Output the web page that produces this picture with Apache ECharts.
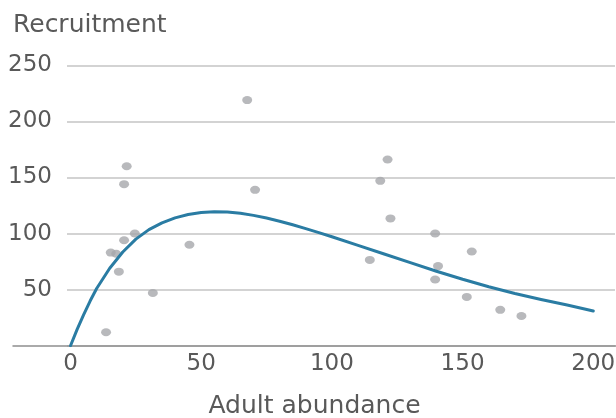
<!DOCTYPE html>
<html>
<head>
<meta charset="utf-8">
<script src="https://cdn.jsdelivr.net/npm/echarts@6/dist/echarts.min.js"></script>
<style>
html,body{margin:0;padding:0;background:#fff;}
#chart{width:616px;height:418px;}
</style>
</head>
<body>
<div id="chart"></div>
<script>
// Observed data points: adult abundance (x) and recruitment (y)
var adultAbundance = [13.6, 15.4, 17.5, 18.5, 20.5, 20.5, 21.5, 24.6, 31.5, 45.5, 67.6, 70.6, 114.5, 118.5, 121.3, 122.4, 139.5, 140.6, 139.5, 151.6, 153.5, 164.4, 172.5];
var recruitment    = [12, 83, 82, 66, 94, 144, 160, 100, 47, 90, 219, 139, 76.5, 147, 166, 113.5, 100, 71, 59, 43.5, 84, 32, 26.5];

// Fitted curve
var curveX = [0, 2.5, 5, 7.5, 10, 15, 20, 25, 30, 35, 40, 45, 50, 55, 60, 65, 70, 75, 80, 85, 90, 95, 100, 110, 120, 130, 140, 150, 160, 170, 180, 190, 200];
var curveY = [0, 14.3, 27.5, 39.8, 51, 69, 83.5, 95, 103.5, 109.5, 114, 117, 118.8, 119.5, 119.2, 118, 116.2, 113.8, 111, 107.8, 104.4, 100.8, 97.1, 89.5, 81.8, 74, 66.4, 59.2, 52.6, 46.6, 41.2, 36.3, 31];

var xTicks = [0, 50, 100, 150, 200];
var yTicks = [0, 50, 100, 150, 200, 250];

var FONT = 'DejaVu Sans';
var TXT = '#595959';

var chart = echarts.init(document.getElementById('chart'), null, {renderer: 'canvas'});

var points = adultAbundance.map(function (x, i) { return [x, recruitment[i]]; });
var curve = curveX.map(function (x, i) { return [x, curveY[i]]; });
function fmt(v) { return String(Math.round(v)); }

chart.setOption({
  animation: false,
  backgroundColor: '#fff',
  title: {
    text: 'Recruitment',
    left: 8, top: 8,
    textStyle: {fontFamily: FONT, fontSize: 25, fontWeight: 'normal', color: TXT}
  },
  grid: [
    {left: 67, right: 1, top: 65.3, bottom: 72.3, outerBoundsMode: 'none'},
    {left: 13, right: 0, top: 65.3, bottom: 72.3, outerBoundsMode: 'none'}
  ],
  xAxis: [
    {
      gridIndex: 0, type: 'value', min: -1.34, max: 208.3,
      axisLine: {show: false}, axisTick: {show: false}, splitLine: {show: false},
      axisLabel: {show: false}
    },
    {
      gridIndex: 1, type: 'value', min: -22, max: 208.7,
      axisLine: {show: true, lineStyle: {color: '#8f8f8f', width: 1.5}},
      axisTick: {show: false}, splitLine: {show: false},
      axisLabel: {customValues: xTicks, formatter: fmt, fontFamily: FONT, fontSize: 23, color: TXT, margin: 7},
      name: 'Adult abundance', nameLocation: 'middle', nameGap: 48,
      nameTextStyle: {fontFamily: FONT, fontSize: 25, color: TXT}
    }
  ],
  yAxis: [
    {
      gridIndex: 0, type: 'value', min: 0, max: 250, interval: 50,
      axisLine: {show: false}, axisTick: {show: false},
      splitLine: {lineStyle: {color: '#c4c4c4', width: 1.5}},
      axisLabel: {
        customValues: yTicks.slice(1), formatter: fmt, fontFamily: FONT, fontSize: 23, color: TXT, margin: 15
      }
    },
    {gridIndex: 1, type: 'value', min: 0, max: 1, show: false}
  ],
  series: [
    {
      type: 'scatter', xAxisIndex: 0, yAxisIndex: 0,
      data: points, symbol: 'circle', symbolSize: [10, 8],
      itemStyle: {color: '#a6a7ab'}, z: 2
    },
    {
      type: 'line', xAxisIndex: 0, yAxisIndex: 0,
      data: curve, smooth: false, showSymbol: false, symbol: 'none',
      lineStyle: {color: '#2a7ca3', width: 3, cap: 'round', join: 'round'}, z: 3
    }
  ]
});
</script>
</body>
</html>
